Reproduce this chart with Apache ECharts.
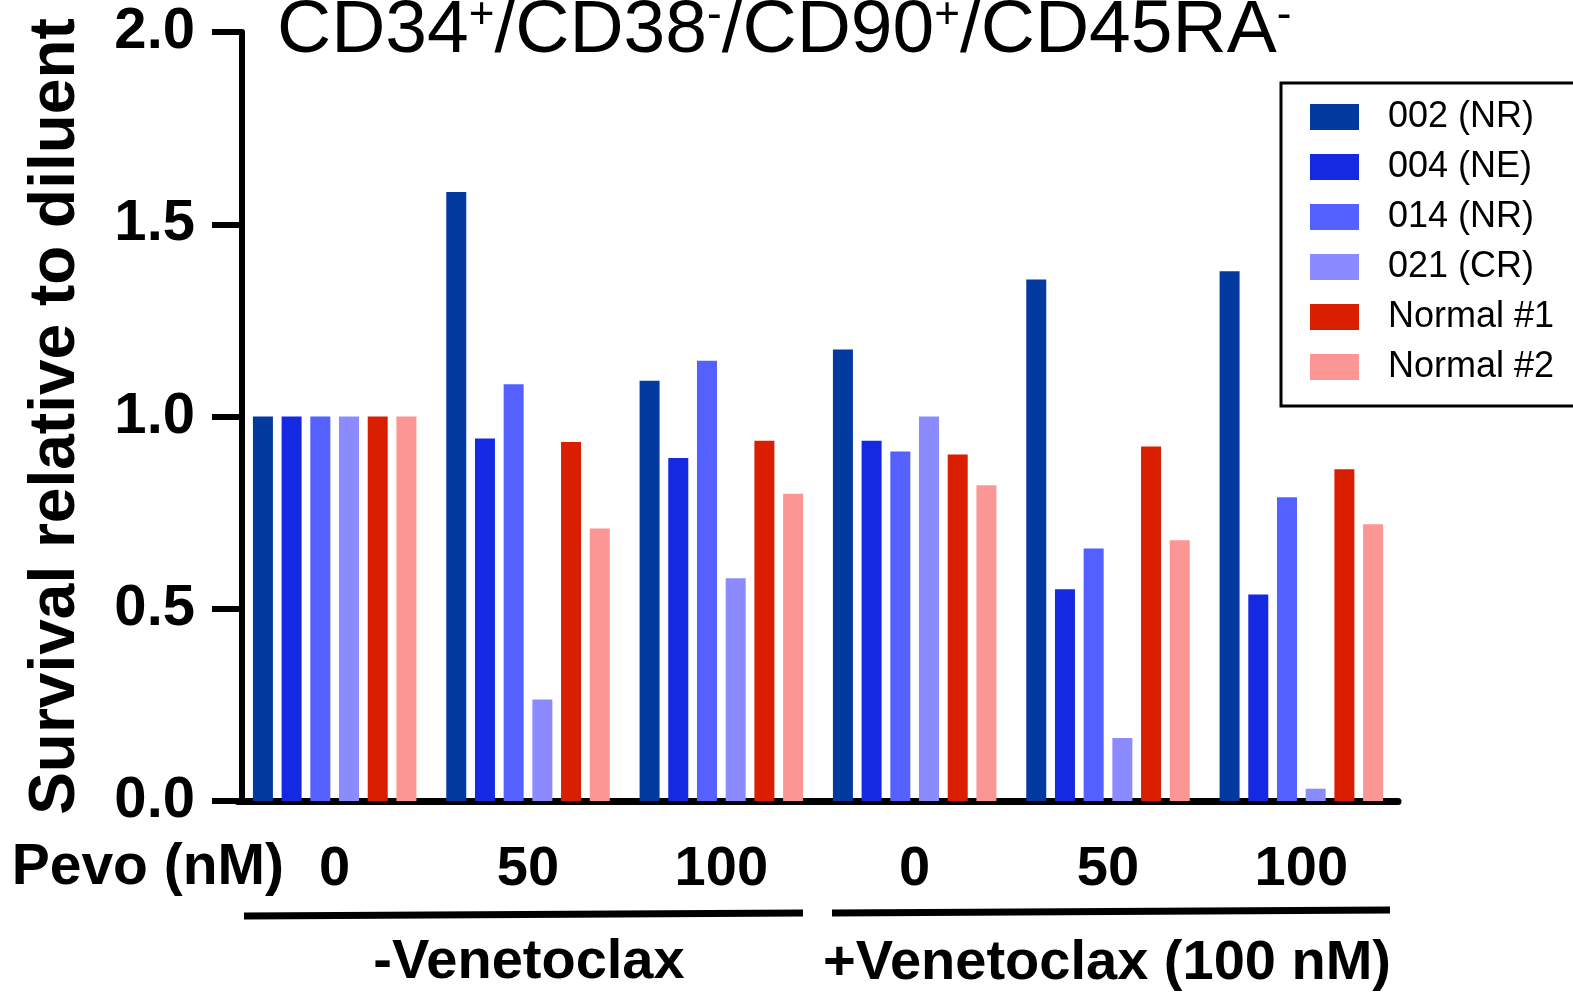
<!DOCTYPE html>
<html>
<head>
<meta charset="utf-8">
<script src="https://cdn.jsdelivr.net/npm/echarts@6/dist/echarts.min.js"></script>
<style>
html,body{margin:0;padding:0;background:#fff;}
#chart{width:1573px;height:992px;}
</style>
</head>
<body>
<div id="chart"></div>
<script>
// ---- data ----
var categories = ['0 (-Ven)', '50 (-Ven)', '100 (-Ven)', '0 (+Ven)', '50 (+Ven)', '100 (+Ven)'];
var pevoLabels = ['0', '50', '100', '0', '50', '100'];
var seriesNames = ['002 (NR)', '004 (NE)', '014 (NR)', '021 (CR)', 'Normal #1', 'Normal #2'];
var s002 = [1.00, 1.584, 1.093, 1.174, 1.356, 1.378];
var s004 = [1.00, 0.943, 0.892, 0.937, 0.551, 0.537];
var s014 = [1.00, 1.084, 1.145, 0.909, 0.657, 0.790];
var s021 = [1.00, 0.264, 0.579, 1.00, 0.164, 0.032];
var sN1  = [1.00, 0.934, 0.937, 0.901, 0.922, 0.863];
var sN2  = [1.00, 0.709, 0.799, 0.821, 0.678, 0.720];
var yTicks = [0, 0.5, 1.0, 1.5, 2.0];
var groupLabels = ['-Venetoclax', '+Venetoclax (100 nM)'];

var colors = ['#023A9F', '#1529E2', '#5460FF', '#8B8BFF', '#D91F00', '#FC9694'];
var allSeries = [s002, s004, s014, s021, sN1, sN2];
var FONT = '"Liberation Sans", Arial, Helvetica, sans-serif';

var chart = echarts.init(document.getElementById('chart'), null, {renderer: 'canvas'});

var series = allSeries.map(function (d, i) {
  return {
    name: seriesNames[i],
    type: 'bar',
    data: d,
    barWidth: 20,
    barGap: '43.5%',
    itemStyle: {color: colors[i]},
    animation: false
  };
});

var option = {
  animation: false,
  color: colors,
  grid: {left: 238, right: 175, top: 32, bottom: 191, containLabel: false},
  legend: {
    orient: 'vertical',
    left: 1281,
    top: 83,
    icon: 'rect',
    itemWidth: 49,
    itemHeight: 26,
    itemGap: 14,
    padding: [16, 60, 21, 29],
    borderColor: '#000',
    borderWidth: 3,
    selectedMode: false,
    data: seriesNames,
    textStyle: {fontFamily: FONT, fontSize: 36, color: '#000', lineHeight: 36, padding: [0, 0, 0, 24]}
  },
  xAxis: {
    type: 'category',
    data: categories,
    axisLine: {lineStyle: {color: '#000', width: 7}},
    axisTick: {alignWithLabel: true, length: 32, lineStyle: {color: '#000', width: 6}},
    axisLabel: {
      margin: 41,
      fontFamily: FONT, fontSize: 56, fontWeight: 'bold', color: '#000', lineHeight: 56,
      formatter: function (v, i) { return pevoLabels[i]; }
    }
  },
  yAxis: {
    type: 'value',
    offset: -4,
    min: yTicks[0],
    max: yTicks[yTicks.length - 1],
    interval: 0.5,
    name: 'Survival relative to diluent',
    nameLocation: 'middle',
    nameRotate: 90,
    nameGap: 154,
    nameTextStyle: {fontFamily: FONT, fontSize: 64, fontWeight: 'bold', color: '#000'},
    axisLine: {show: true, lineStyle: {color: '#000', width: 6}},
    axisTick: {show: true, length: 30, lineStyle: {color: '#000', width: 6}},
    splitLine: {show: false},
    axisLabel: {
      margin: 47,
      fontFamily: FONT, fontSize: 58, fontWeight: 'bold', color: '#000',
      formatter: function (v) { return v.toFixed(1); }
    }
  },
  graphic: [
    {
      type: 'text', left: 277, top: -6,
      style: {
        text: '{m|CD34}{s|+}{m|/CD38}{s|-}{m|/CD90}{s|+}{m|/CD45RA}{s|-}',
        rich: {
          m: {fontFamily: FONT, fontSize: 75, color: '#000', lineHeight: 75, verticalAlign: 'bottom'},
          s: {fontFamily: FONT, fontSize: 44, color: '#000', lineHeight: 44, verticalAlign: 'top'}
        }
      }
    },
    {
      type: 'text', x: 284, y: 868,
      style: {text: 'Pevo (nM)', align: 'right', verticalAlign: 'middle', fontFamily: FONT, fontSize: 57, fontWeight: 'bold', fill: '#000'}
    },
    {
      type: 'line', shape: {x1: 244, y1: 916, x2: 803, y2: 913},
      style: {stroke: '#000', lineWidth: 7}
    },
    {
      type: 'line', shape: {x1: 832, y1: 913, x2: 1390, y2: 910},
      style: {stroke: '#000', lineWidth: 7}
    },
    {
      type: 'text', x: 529, y: 963,
      style: {text: groupLabels[0], align: 'center', verticalAlign: 'middle', fontFamily: FONT, fontSize: 56, fontWeight: 'bold', fill: '#000'}
    },
    {
      type: 'text', x: 1107, y: 964,
      style: {text: groupLabels[1], align: 'center', verticalAlign: 'middle', fontFamily: FONT, fontSize: 56, fontWeight: 'bold', fill: '#000'}
    }
  ],
  series: series
};
chart.setOption(option);
</script>
</body>
</html>
